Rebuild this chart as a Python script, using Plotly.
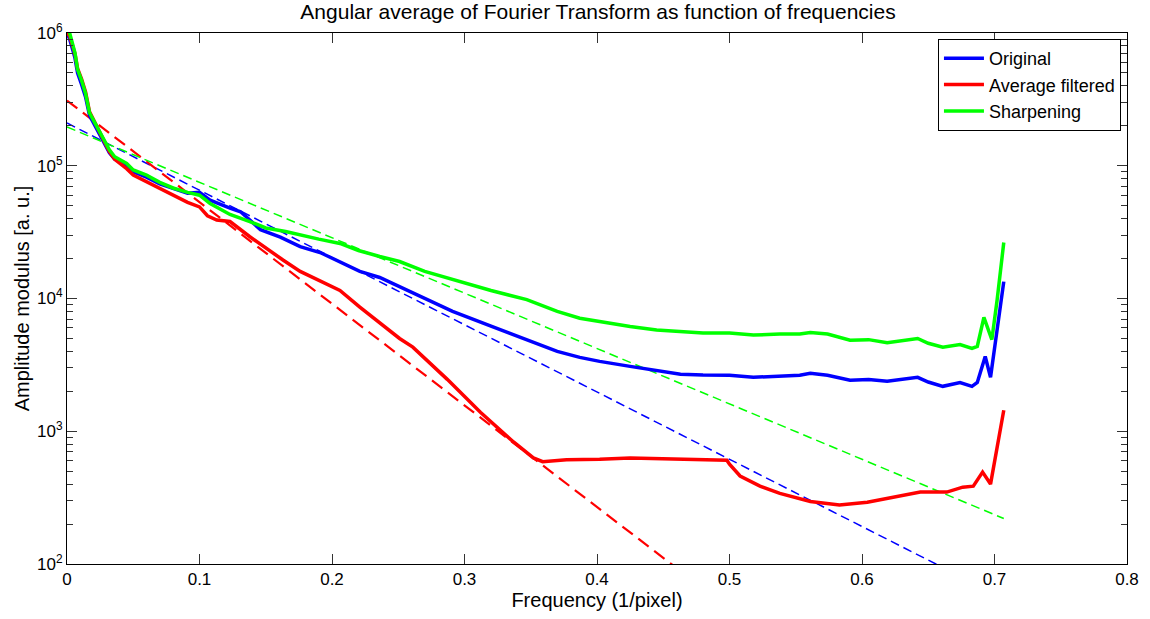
import plotly.graph_objects as go

# ---------------- data ----------------
freq_green = [0.000, 0.002, 0.006, 0.008, 0.011, 0.014, 0.017, 0.023, 0.027, 0.032, 0.036, 0.045,
              0.050, 0.060, 0.070, 0.080, 0.091, 0.100, 0.108, 0.123, 0.138, 0.150, 0.165, 0.176,
              0.190, 0.206, 0.220, 0.236, 0.251, 0.270, 0.291, 0.320, 0.347, 0.370, 0.387, 0.402,
              0.425, 0.445, 0.463, 0.480, 0.500, 0.518, 0.538, 0.553, 0.561, 0.574, 0.591, 0.605,
              0.619, 0.630, 0.642, 0.650, 0.661, 0.674, 0.683, 0.687, 0.692, 0.698, 0.702, 0.707]
sharpening = [1.1e6, 1.0e6, 7.1e5, 5.3e5, 4.4e5, 3.5e5, 2.5e5, 1.96e5, 1.65e5, 1.32e5, 1.17e5, 1.04e5,
              9.3e4, 8.5e4, 7.5e4, 6.8e4, 6.3e4, 6.0e4, 5.2e4, 4.3e4, 3.8e4, 3.4e4, 3.2e4, 3.0e4,
              2.8e4, 2.6e4, 2.3e4, 2.07e4, 1.9e4, 1.6e4, 1.39e4, 1.15e4, 9.8e3, 8.0e3, 7.1e3, 6.7e3,
              6.15e3, 5.8e3, 5.65e3, 5.5e3, 5.5e3, 5.3e3, 5.4e3, 5.4e3, 5.55e3, 5.4e3, 4.85e3, 4.9e3,
              4.65e3, 4.8e3, 5.0e3, 4.6e3, 4.3e3, 4.5e3, 4.2e3, 4.35e3, 7.2e3, 4.9e3, 9.8e3, 2.64e4]

freq_blue = [0.000, 0.002, 0.006, 0.008, 0.011, 0.014, 0.017, 0.023, 0.027, 0.032, 0.036, 0.045,
             0.050, 0.060, 0.070, 0.080, 0.091, 0.100, 0.108, 0.123, 0.131, 0.138, 0.146, 0.161,
             0.176, 0.191, 0.206, 0.221, 0.236, 0.251, 0.270, 0.291, 0.320, 0.347, 0.370, 0.387,
             0.402, 0.425, 0.445, 0.463, 0.480, 0.500, 0.518, 0.538, 0.553, 0.561, 0.574, 0.591,
             0.605, 0.619, 0.630, 0.642, 0.650, 0.661, 0.674, 0.683, 0.687, 0.693, 0.697, 0.707]
original = [1.0e6, 9.0e5, 6.5e5, 5.0e5, 4.1e5, 3.3e5, 2.4e5, 1.85e5, 1.55e5, 1.25e5, 1.12e5, 1.0e5,
            9.0e4, 8.2e4, 7.3e4, 6.8e4, 6.2e4, 6.3e4, 5.5e4, 4.8e4, 4.5e4, 3.9e4, 3.3e4, 2.9e4,
            2.46e4, 2.22e4, 1.87e4, 1.6e4, 1.44e4, 1.23e4, 1.0e4, 8.0e3, 6.2e3, 4.9e3, 4.0e3, 3.6e3,
            3.36e3, 3.08e3, 2.85e3, 2.69e3, 2.65e3, 2.64e3, 2.55e3, 2.6e3, 2.64e3, 2.73e3, 2.64e3, 2.42e3,
            2.45e3, 2.38e3, 2.45e3, 2.55e3, 2.35e3, 2.18e3, 2.33e3, 2.18e3, 2.33e3, 3.66e3, 2.55e3, 1.34e4]

freq_red = [0.000, 0.002, 0.006, 0.008, 0.011, 0.014, 0.017, 0.023, 0.027, 0.032, 0.036, 0.045,
            0.050, 0.060, 0.070, 0.080, 0.091, 0.100, 0.106, 0.113, 0.123, 0.138, 0.151, 0.163,
            0.176, 0.189, 0.206, 0.221, 0.236, 0.251, 0.261, 0.287, 0.312, 0.337, 0.352, 0.359,
            0.377, 0.402, 0.425, 0.463, 0.498, 0.500, 0.508, 0.523, 0.538, 0.561, 0.583, 0.604,
            0.623, 0.644, 0.664, 0.676, 0.684, 0.691, 0.697, 0.703, 0.707]
average_filtered = [1.0e6, 9.5e5, 7.0e5, 5.4e5, 4.5e5, 3.6e5, 2.55e5, 1.95e5, 1.6e5, 1.28e5, 1.12e5, 9.5e4,
                    8.5e4, 7.6e4, 6.8e4, 6.0e4, 5.3e4, 4.9e4, 4.2e4, 3.9e4, 3.8e4, 2.92e4, 2.35e4, 1.95e4,
                    1.6e4, 1.38e4, 1.15e4, 8.6e3, 6.6e3, 5.0e3, 4.3e3, 2.46e3, 1.39e3, 8.3e2, 6.3e2, 5.9e2,
                    6.1e2, 6.15e2, 6.3e2, 6.15e2, 6.05e2, 5.65e2, 4.6e2, 3.86e2, 3.4e2, 2.96e2, 2.78e2, 2.92e2,
                    3.19e2, 3.48e2, 3.48e2, 3.79e2, 3.86e2, 4.92e2, 4.0e2, 8.4e2, 1.44e3]

# fitted (straight on log scale) lines: end points
fit_freq = [0.0, 0.707]
fit_original = [2.1e5, 55]
fit_average = [3.1e5, 1.2]
fit_sharpening = [1.96e5, 2.2e2]

series_names = ["Original", "Average filtered", "Sharpening"]
x_ticks = [0, 0.1, 0.2, 0.3, 0.4, 0.5, 0.6, 0.7, 0.8]
x_tick_labels = ["0", "0.1", "0.2", "0.3", "0.4", "0.5", "0.6", "0.7", "0.8"]
y_ticks = [1e2, 1e3, 1e4, 1e5, 1e6]
y_tick_labels = ["10<sup>2</sup>", "10<sup>3</sup>", "10<sup>4</sup>", "10<sup>5</sup>", "10<sup>6</sup>"]

BLUE, RED, GREEN = "#0000ff", "#ff0000", "#00ff00"
FONT = "Arial, Liberation Sans, sans-serif"

fig = go.Figure()

# fitted dashed lines (drawn under the data)
fig.add_trace(go.Scatter(x=fit_freq, y=fit_original, mode="lines", showlegend=False,
                         line=dict(color=BLUE, width=1.5, dash="9px,5px"), hoverinfo="skip"))
fig.add_trace(go.Scatter(x=fit_freq, y=fit_average, mode="lines", showlegend=False,
                         line=dict(color=RED, width=2.2, dash="13px,7px"), hoverinfo="skip"))
fig.add_trace(go.Scatter(x=fit_freq, y=fit_sharpening, mode="lines", showlegend=False,
                         line=dict(color=GREEN, width=1.5, dash="9px,5px"), hoverinfo="skip"))

# measured curves
fig.add_trace(go.Scatter(x=freq_blue, y=original, mode="lines", name=series_names[0],
                         line=dict(color=BLUE, width=3.5)))
fig.add_trace(go.Scatter(x=freq_red, y=average_filtered, mode="lines", name=series_names[1],
                         line=dict(color=RED, width=3.5)))
fig.add_trace(go.Scatter(x=freq_green, y=sharpening, mode="lines", name=series_names[2],
                         line=dict(color=GREEN, width=3.5)))

axis_common = dict(showline=True, linecolor="black", linewidth=1, mirror="ticks",
                   ticks="inside", ticklen=10, tickcolor="#333333", showgrid=False, zeroline=False,
                   tickfont=dict(family=FONT, size=17, color="black"))

fig.update_layout(
    width=1150, height=619,
    margin=dict(l=67, r=23, t=33, b=55),
    paper_bgcolor="white", plot_bgcolor="white",
    title=dict(text="Angular average of Fourier Transform as function of frequencies",
               x=0.52, xanchor="center", y=0.982, yanchor="middle",
               font=dict(family=FONT, size=21, color="black")),
    xaxis=dict(range=[0, 0.8], tickvals=x_ticks, ticktext=x_tick_labels,
               title=dict(text="Frequency (1/pixel)", standoff=4,
                          font=dict(family=FONT, size=20, color="black")),
               **axis_common),
    yaxis=dict(type="log", range=[2, 6], tickvals=y_ticks, ticktext=y_tick_labels,
               minor=dict(ticks="inside", ticklen=6, tickcolor="#333333", dtick="D1", showgrid=False),
               title=dict(text="Amplitude modulus [a. u.]", standoff=2,
                          font=dict(family=FONT, size=20, color="black")),
               **axis_common),
    legend=dict(x=0.9943, y=0.9887, xanchor="right", yanchor="top",
                bgcolor="white", bordercolor="black", borderwidth=1,
                font=dict(family=FONT, size=18, color="black"),
                tracegroupgap=0, itemwidth=40),
    showlegend=True,
)

fig.write_html("out.html")
